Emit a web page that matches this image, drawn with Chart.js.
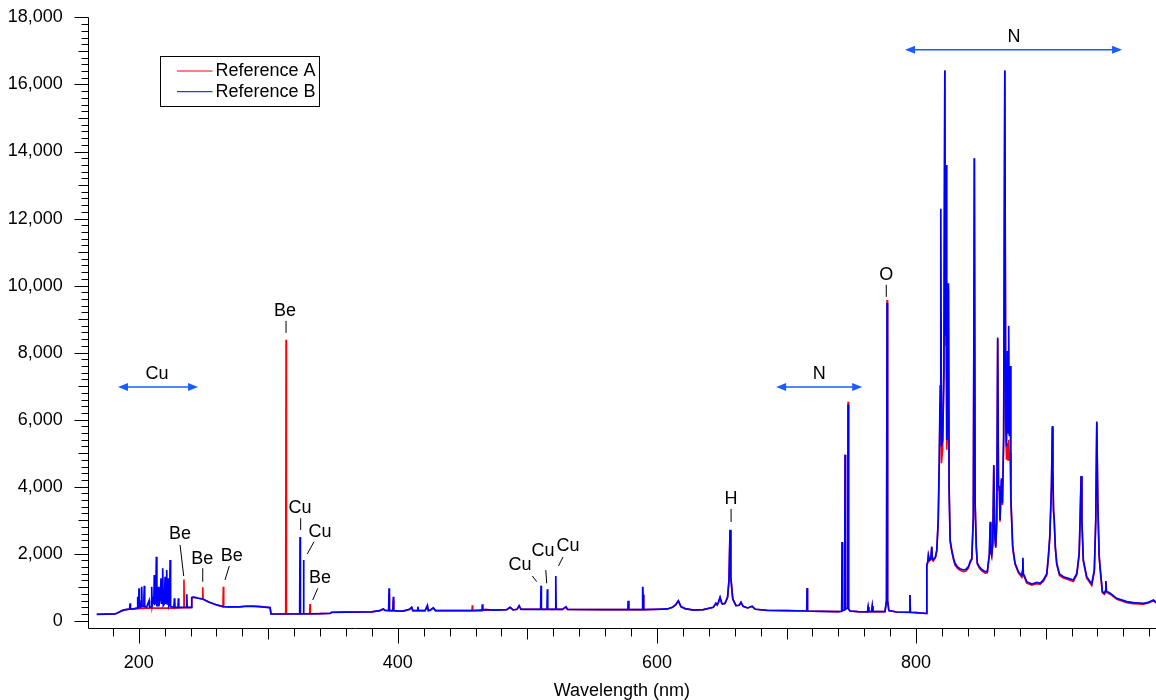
<!DOCTYPE html>
<html lang="en">
<head>
  <meta charset="UTF-8">
  <title>Reference spectra</title>
  <script src="https://cdn.jsdelivr.net/npm/chart.js"></script>
  <style>
    html, body { margin: 0; padding: 0; background: #fff; }
    #wrap { width: 1156px; height: 700px; }
  </style>
</head>
<body>
<div id="wrap"><canvas id="spectrum" width="1156" height="700"></canvas></div>
<script>
// [wavelength nm, intensity]
const referenceA = [
  [167.6,191],[175,195],[181.7,200],[184,240],[187,300],[190,330],[193,345],[197,350],[200,360],[205,370],
  [210,375],[215,375],[220,375],[227.2,375],[227.5,520],[227.8,375],[234.6,385],[234.9,1230],[235.2,390],
  [239.6,390],[240.5,395],[240.9,690],[242,700],[244,690],[246,670],[249.1,650],[249.4,1000],[249.7,640],
  [254,560],[260.2,470],[265.0,420],[265.3,1015],[265.6,420],[270,410],[278,415],[282,430],[288,440],
  [293.6,420],[301.4,390],[302.1,200],[313.4,200],[313.7,8380],[314.0,200],[324,205],[331.9,205],
  [332.2,498],[332.5,205],[340,210],[347.7,220],[349,250],[360,255],[380,265],[386,300],[388.8,349],
  [390,310],[392.9,300],[393.2,800],[393.5,300],[396.2,300],[396.5,600],[396.8,300],[400,290],[404,285],
  [408.9,338],[410.7,390],[411.5,300],[421,300],[422.8,430],[423.5,300],[427.4,370],[429,300],[450,300],
  [457.2,300],[457.5,458],[457.8,300],[467.3,330],[475,318],[484,330],[486.6,398],[489,320],[492,340],
  [493.6,440],[495,340],[527,338],[529.8,400],[531,338],[560,330],[577.6,330],[577.9,590],[578.2,330],
  [588.7,330],[589.0,1000],[589.3,500],[589.6,770],[589.9,330],[600,340],[608,350],[612,400],[614.5,480],
  [616.5,590],[618.5,420],[621.7,360],[628.1,318],[635.8,330],[643.5,398],[645.5,520],[646.5,470],
  [647.4,540],[648.7,690],[650.0,520],[650.8,498],[652.5,518],[654.5,700],[655.6,1200],[656.4,2700],
  [657.0,1300],[658.5,650],[661,450],[663.5,460],[664.9,545],[666.5,430],[670,380],[673.4,425],[676,340],
  [685,310],[700,300],[715.6,290],[715.9,950],[716.2,290],[725,280],[740,270],[742.6,280],[742.9,2350],
  [743.2,300],[744.9,320],[745.2,4950],[745.5,350],[747.2,380],[747.5,6530],[747.9,350],[749,290],
  [755,270],[762.5,260],[763.0,400],[763.5,270],[765.7,270],[766.2,430],[766.7,270],[776,270],[777.2,600],
  [777.6,9570],[778.0,600],[779,300],[785,260],[795.0,250],[795.3,767],[795.6,250],[800,240],[808.0,215],
  [808.3,1650],[809.0,1720],[809.5,1930],[810.3,1780],[811.4,1820],[812.1,2180],[812.6,1820],[813.2,1780],
  [815.0,1880],[816.0,2080],[817.1,2950],[817.9,4600],[818.6,6500],[819.1,9000],[819.6,4700],[820.5,5100],
  [821.5,7300],[822.2,16418],[822.7,8200],[823.2,8800],[823.7,5100],[824.4,5800],[825.0,9900],[825.5,3900],
  [826.3,2350],[827.6,2050],[829.0,1800],[830.1,1660],[832.0,1560],[834.0,1500],[836.5,1460],[838.5,1480],
  [840.4,1570],[842.0,1750],[843.0,1820],[844.2,3050],[845.0,13800],[845.6,3450],[846.5,2150],[847.3,1680],
  [849.0,1560],[851.0,1480],[853.3,1420],[855.0,1430],[856.6,1960],[857.2,2900],[857.7,2050],[858.4,1920],
  [859.2,2270],[860.0,4600],[860.8,2460],[861.5,2170],[862.3,2950],[863.0,8400],[863.6,3900],[864.3,3900],
  [864.8,2950],[865.9,4200],[866.7,3450],[867.6,5400],[868.5,16418],[869.2,5800],[869.8,4800],[870.5,5300],
  [871.0,4800],[871.5,5400],[872.0,4800],[872.6,5000],[873.2,3550],[874.6,2160],[876.4,1680],[879.0,1430],
  [881.6,1300],[882.1,1450],[882.4,1850],[882.8,1360],[883.9,1270],[885.4,1120],[889.3,1060],[893.2,1100],
  [895.7,1080],[898.3,1180],[900.9,1360],[902.2,1920],[903.2,2450],[904.5,3950],[905.2,5750],[905.6,4400],
  [906.1,3250],[906.6,3000],[907.5,2150],[908.6,1670],[910.7,1350],[913.7,1270],[917.6,1220],[921.4,1170],
  [924.1,1370],[925.9,1960],[926.6,2950],[927.4,4300],[928.0,2950],[929.1,1770],[931.7,1270],[935.6,1050],
  [937.6,1470],[938.7,2950],[939.5,5900],[940.3,3450],[941.3,1920],[942.0,1570],[943.8,830],[945.4,790],
  [946.2,870],[946.5,1150],[946.9,850],[949.8,790],[954.9,640],[962.6,540],[967.7,510],[975.5,495],
  [979.3,525],[983.2,595],[985.3,530]
];

const referenceB = [
  [167.6,191],[175,195],[181.7,200],[184,240],[187,300],[190,330],[192.5,345],[193.0,380],[193.3,519],
  [193.6,360],[196.0,355],[198.8,380],[199.2,716],[199.6,390],[200.0,500],[200.2,966],[200.5,420],
  [201.5,400],[202.0,600],[202.3,1015],[202.6,420],[203.5,420],[204.0,700],[204.3,1045],[204.6,420],
  [206.0,400],[208.0,600],[208.3,400],[209.6,420],[210.0,1015],[210.4,450],[211.2,620],[211.6,500],
  [212.0,1364],[212.4,500],[213.0,520],[213.6,1910],[214.0,450],[214.7,450],[215.1,1015],[215.5,430],
  [216.6,700],[217.2,1265],[217.6,500],[218.1,620],[218.5,1564],[218.9,450],[219.8,500],[220.3,1313],
  [220.7,500],[221.2,620],[221.6,1513],[222.0,500],[222.4,600],[222.8,1265],[223.2,450],[223.8,520],
  [224.2,1812],[224.6,420],[227.2,400],[227.5,668],[227.8,400],[230.3,400],[230.6,668],[230.9,400],
  [236.8,400],[237.1,790],[237.4,400],[240.5,400],[240.9,690],[242,700],[244,690],[246,670],[249.9,640],
  [254,560],[260.2,470],[265.3,420],[270,410],[278,415],[282,430],[288,430],[293.6,420],[301.4,390],
  [302.1,200],[313,200],[324.2,205],[324.5,2498],[324.8,205],[326.9,205],[327.2,1812],[327.5,205],
  [340,210],[347.7,220],[349,250],[360,255],[380,265],[386,300],[388.8,349],[390,310],[392.9,300],
  [393.2,966],[393.5,300],[396.2,300],[396.5,716],[396.8,300],[400,290],[404,285],[408.9,338],[410.7,398],
  [411.5,300],[415.0,300],[415.4,418],[416,300],[421,300],[422.8,458],[423.5,300],[424.9,309],[427.4,388],
  [429,300],[450,300],[464.9,300],[465.2,488],[465.6,310],[467.3,330],[475,318],[484,330],[486.6,398],
  [489,320],[492,340],[493.6,448],[495,340],[510.2,338],[510.5,1045],[510.8,338],[515.1,338],[515.4,937],
  [515.7,338],[521.6,338],[521.9,1334],[522.2,338],[527,338],[529.8,418],[531,338],[560,330],[577.6,330],
  [577.9,597],[578.2,330],[588.7,330],[589.0,1015],[589.3,500],[589.6,780],[589.9,330],[600,340],
  [608,350],[612,400],[614.5,480],[616.5,597],[618.5,420],[621.7,360],[628.1,318],[635.8,330],[643.5,398],
  [645.5,520],[646.5,470],[647.4,547],[648.7,700],[650.0,520],[650.8,498],[652.5,518],[654.5,700],
  [655.6,1200],[656.4,2716],[657.0,1300],[658.5,650],[661,450],[663.5,460],[664.9,550],[666.5,430],
  [670,380],[673.4,430],[676,340],[685,310],[700,300],[715.6,290],[715.9,975],[716.2,290],[725,280],
  [740,270],[742.6,280],[742.9,2350],[743.2,300],[744.9,320],[745.2,4950],[745.5,350],[747.2,380],
  [747.5,6450],[747.9,350],[749,290],[755,270],[762.5,260],[763.0,409],[763.5,270],[765.7,270],
  [766.2,439],[766.7,270],[776,270],[777.2,600],[777.6,9480],[778.0,600],[779,300],[785,260],[795.0,250],
  [795.3,767],[795.6,250],[800,240],[808.0,215],
  [808.3,1683],[809.0,1750],[809.5,1961],[810.3,1812],[811.4,1850],[812.1,2209],[812.6,1850],[813.2,1812],
  [815.0,1911],[816.0,2110],[817.1,3006],[817.9,4797],[818.6,7000],[819.1,12290],[819.6,5200],[820.5,5394],
  [821.5,7500],[822.2,16418],[822.7,8500],[823.2,13600],[823.7,5394],[824.4,6000],[825.0,10070],[825.5,4000],
  [826.3,2409],[827.6,2100],[829.0,1850],[830.1,1713],[832.0,1600],[834.0,1550],[836.5,1513],[838.5,1530],
  [840.4,1612],[842.0,1792],[843.0,1850],[844.2,3100],[845.0,13800],[845.6,3500],[846.5,2200],[847.3,1713],
  [849.0,1600],[851.0,1520],[853.3,1463],[855.0,1463],[856.6,2000],[857.2,2955],[857.7,2100],[858.4,1961],
  [859.2,2310],[860.0,4648],[860.8,2507],[861.5,2209],[862.3,3006],[863.0,8448],[863.6,4000],[864.3,4000],
  [864.8,3006],[865.9,4250],[866.7,3504],[867.6,5500],[868.5,16418],[869.2,6000],[869.8,5200],[870.5,8050],
  [871.0,5600],[871.5,8797],[872.0,5500],[872.6,7600],[873.2,3653],[874.6,2209],[876.4,1713],[879.0,1463],
  [881.6,1340],[882.1,1500],[882.4,1881],[882.8,1400],[883.9,1313],[885.4,1164],[889.3,1095],[893.2,1140],
  [895.7,1115],[898.3,1215],[900.9,1400],[902.2,1961],[903.2,2507],[904.5,4000],[905.2,5812],[905.6,4500],
  [906.1,3300],[906.6,3056],[907.5,2200],[908.6,1713],[910.7,1394],[913.7,1313],[917.6,1264],[921.4,1215],
  [924.1,1413],[925.9,2012],[926.6,3006],[927.4,4319],[928.0,3006],[929.1,1812],[931.7,1313],[935.6,1095],
  [937.6,1513],[938.7,3006],[939.5,5940],[940.3,3500],[941.3,1961],[942.0,1612],[943.8,866],[945.4,818],
  [946.2,900],[946.5,1185],[946.9,880],[949.8,818],[954.9,668],[962.6,568],[967.7,537],[975.5,518],
  [979.3,548],[983.2,618],[985.3,548]
];

const seriesNames = ['Reference A', 'Reference B'];
const seriesColors = ['#ff0000', '#0000ff'];
const xTickLabels = [200, 400, 600, 800];
const yTickLabels = [0, 2000, 4000, 6000, 8000, 10000, 12000, 14000, 16000, 18000];

// element labels: text at (x nm, y counts), optional leader line [x1, y1, x2, y2]
const elementLabels = [
  { text: 'Cu', x: 214.1, y: 7364 },
  { text: 'Be', x: 231.9, y: 2579, line: [231.9, 2260, 234.7, 1334] },
  { text: 'Be', x: 249.1, y: 1833, line: [249.4, 1564, 249.4, 1164] },
  { text: 'Be', x: 271.8, y: 1931, line: [269.9, 1633, 266.6, 1215] },
  { text: 'Be', x: 312.9, y: 9245, line: [313.7, 8946, 313.7, 8588] },
  { text: 'Cu', x: 324.5, y: 3355, line: [325.0, 3057, 325.0, 2707] },
  { text: 'Cu', x: 339.9, y: 2657, line: [335.3, 2358, 330.1, 1991] },
  { text: 'Be', x: 339.9, y: 1266, line: [338.2, 967, 334.3, 618] },
  { text: 'Cu', x: 494.3, y: 1663, line: [503.8, 1334, 507.2, 1164] },
  { text: 'Cu', x: 512.1, y: 2081, line: [514.2, 1513, 514.9, 1116] },
  { text: 'Cu', x: 531.4, y: 2230, line: [527.5, 1901, 524.0, 1633] },
  { text: 'H', x: 657.2, y: 3633, line: [657.2, 3334, 657.2, 2946] },
  { text: 'O', x: 777.0, y: 10320, line: [777.0, 10021, 777.0, 9663] },
  { text: 'N', x: 725.2, y: 7364 },
  { text: 'N', x: 875.6, y: 17423 }
];
const rangeArrows = [
  { from: 184.0, to: 245.8, y: 6976 },
  { from: 692.0, to: 758.4, y: 6976 },
  { from: 791.5, to: 959.0, y: 17035 }
];

const FONT = '"Liberation Sans", Arial, Helvetica, sans-serif';
Chart.defaults.font.family = FONT;
Chart.defaults.color = '#000';

function line(ctx, x1, y1, x2, y2) {
  ctx.beginPath();
  ctx.moveTo(x1, y1);
  ctx.lineTo(x2, y2);
  ctx.stroke();
}

const decorations = {
  id: 'decorations',
  afterDraw(chart) {
    const ctx = chart.ctx;
    const xs = chart.scales.x, ys = chart.scales.y;
    const area = chart.chartArea;
    ctx.save();
    ctx.strokeStyle = '#000';
    ctx.lineWidth = 1;

    // axis lines
    const left = Math.round(area.left) + 0.5;
    const bottom = Math.round(area.bottom) + 0.5;
    line(ctx, left, area.top, left, bottom);
    line(ctx, left, bottom, area.right, bottom);

    // x tick marks every 20 nm
    for (let v = 180; v <= 980; v += 20) {
      const px = Math.round(xs.getPixelForValue(v)) + 0.5;
      const len = v % 200 === 0 ? 15 : (v % 100 === 0 ? 11 : 8);
      line(ctx, px, bottom, px, bottom + len);
    }
    // y tick marks every 200 counts
    for (let v = 0; v <= 18000; v += 200) {
      const py = Math.round(ys.getPixelForValue(v)) + 0.5;
      const len = v % 2000 === 0 ? 14 : (v % 1000 === 0 ? 10 : 7);
      line(ctx, left - len, py, left, py);
    }

    // element labels and leader lines
    ctx.font = '18px ' + FONT;
    ctx.fillStyle = '#000';
    ctx.textAlign = 'center';
    ctx.textBaseline = 'middle';
    elementLabels.forEach(l => {
      ctx.fillText(l.text, xs.getPixelForValue(l.x), ys.getPixelForValue(l.y));
      if (l.line) {
        line(ctx, xs.getPixelForValue(l.line[0]), ys.getPixelForValue(l.line[1]),
                  xs.getPixelForValue(l.line[2]), ys.getPixelForValue(l.line[3]));
      }
    });

    // blue double arrows marking ranges
    ctx.strokeStyle = '#1a5cff';
    ctx.fillStyle = '#1a5cff';
    ctx.lineWidth = 1.5;
    rangeArrows.forEach(a => {
      const x1 = xs.getPixelForValue(a.from), x2 = xs.getPixelForValue(a.to);
      const y = ys.getPixelForValue(a.y);
      const head = 10, half = 4;
      line(ctx, x1 + head - 1, y, x2 - head + 1, y);
      ctx.beginPath();
      ctx.moveTo(x1, y); ctx.lineTo(x1 + head, y - half); ctx.lineTo(x1 + head, y + half); ctx.closePath();
      ctx.fill();
      ctx.beginPath();
      ctx.moveTo(x2, y); ctx.lineTo(x2 - head, y - half); ctx.lineTo(x2 - head, y + half); ctx.closePath();
      ctx.fill();
    });

    // legend box
    const lx = Math.round(area.left + 72) + 0.5, ly = Math.round(area.top + 39) + 0.5;
    ctx.fillStyle = '#fff';
    ctx.fillRect(lx, ly, 159, 50);
    ctx.strokeStyle = '#000';
    ctx.lineWidth = 1;
    ctx.strokeRect(lx, ly, 159, 50);
    ctx.textAlign = 'left';
    seriesNames.forEach((name, i) => {
      const yy = ly + 14.5 + i * 20.7;
      ctx.strokeStyle = seriesColors[i];
      ctx.lineWidth = 1;
      line(ctx, lx + 16.5, yy, lx + 52, yy);
      ctx.fillStyle = '#000';
      ctx.fillText(name, lx + 55, yy);
    });
    ctx.restore();
  }
};

new Chart(document.getElementById('spectrum'), {
  type: 'line',
  data: {
    datasets: [
      {
        label: seriesNames[0],
        data: referenceA.map(p => ({ x: p[0], y: p[1] })),
        borderColor: seriesColors[0],
        borderWidth: 1.6,
        pointRadius: 0,
        tension: 0,
        order: 1
      },
      {
        label: seriesNames[1],
        data: referenceB.map(p => ({ x: p[0], y: p[1] })),
        borderColor: seriesColors[1],
        borderWidth: 1.7,
        pointRadius: 0,
        tension: 0,
        order: 0
      }
    ]
  },
  options: {
    responsive: false,
    animation: false,
    devicePixelRatio: 1,
    layout: { padding: { top: 0, right: 0, bottom: 0, left: 0 } },
    plugins: { legend: { display: false }, tooltip: { enabled: false } },
    scales: {
      x: {
        type: 'linear',
        min: 160.6,
        max: 985.2,
        grid: { display: false },
        border: { display: false },
        afterBuildTicks: s => { s.ticks = xTickLabels.map(v => ({ value: v })); },
        afterFit: s => { s.height = 72; },
        ticks: { font: { size: 18 }, color: '#000', padding: 16, maxRotation: 0, autoSkip: false },
        title: { display: true, text: 'Wavelength (nm)', font: { size: 18 }, color: '#000', padding: { top: 0, bottom: -2 } }
      },
      y: {
        type: 'linear',
        min: -218,
        max: 18000,
        grid: { display: false },
        border: { display: false },
        afterBuildTicks: s => { s.ticks = yTickLabels.map(v => ({ value: v })); },
        afterFit: s => { s.width = 87.7; },
        ticks: { font: { size: 18, lineHeight: 0.05 }, color: '#000', padding: 17, callback: v => v.toLocaleString('en-US') }
      }
    }
  },
  plugins: [decorations]
});
</script>
</body>
</html>
